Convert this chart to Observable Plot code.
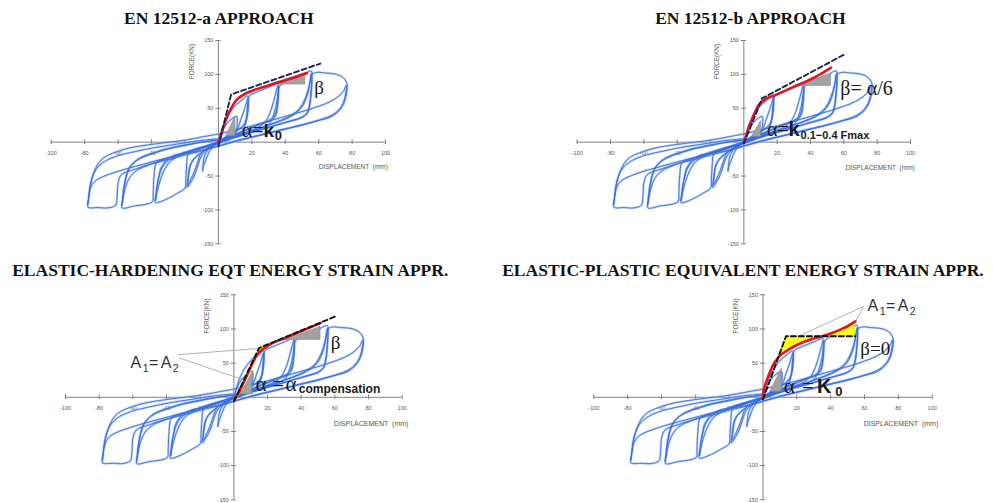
<!DOCTYPE html>
<html><head><meta charset="utf-8">
<script src="https://cdn.jsdelivr.net/npm/d3@7"></script>
<script src="https://cdn.jsdelivr.net/npm/@observablehq/plot@0.6"></script>
<style>
html,body{margin:0;padding:0;background:#fff;}
#wrap{position:relative;width:993px;height:503px;overflow:hidden;background:#fff;}
#wrap svg{position:absolute;}
</style></head><body><div id="wrap"></div>
<script>
// ---------- titles and axis texts ----------
const titles = ["EN 12512-a APPROACH", "EN 12512-b APPROACH", "ELASTIC-HARDENING EQT ENERGY STRAIN APPR.", "ELASTIC-PLASTIC EQUIVALENT ENERGY STRAIN APPR."];
const xLabel = "DISPLACEMENT  (mm)";
const yLabel = "FORCE(KN)";
const xTicks = [-100, -80, -60, -40, -20, 0, 20, 40, 60, 80, 100];
const xTickLabels = ["-100", "-80", "-60", "-40", "-20", "", "20", "40", "60", "80", "100"];
const yTicks = [-150, -100, -50, 0, 50, 100, 150];
const yTickLabels = ["-150", "-100", "-50", "", "50", "100", "150"];

// ---------- hysteresis cycles (displacement mm, force kN) ----------
const loopSmall = [[0,0],[1.5,12],[3.5,22],[6,30],[9,36],[11,38],[11.3,30],[11,20],[10,12],[7,6],[3,1],[0,-2],[-3,-6],[-5.5,-14],[-7.5,-26],[-9,-36],[-9.5,-43],[-9.2,-33],[-8.6,-23],[-7.4,-15],[-5,-8],[-2,-3],[0,0]];
const loop17a = [[0,0],[1.5,13],[3,25],[5,36],[7.5,46],[10.5,55],[14,62],[17.5,68],[17.9,60],[17.6,46],[17,36],[16,28],[14,22],[10,16],[6,10],[2,4],[0,0],[-3,-5],[-6,-10],[-9,-16],[-11,-25],[-13,-40],[-15,-53],[-17,-61],[-18.7,-67],[-18.3,-56],[-17.8,-45],[-16.8,-34],[-14.8,-25.5],[-11.5,-18],[-8.8,-13],[-5,-8],[-2,-3],[0,0]];
const loop17b = [[0,0],[3,4],[6,8],[9,12],[11.5,20],[13.5,34],[15.5,48],[17,60],[17.6,65],[17.9,57],[17.5,44],[16.7,34],[15.4,26],[13,20],[9,14],[5,8],[1,2],[-2,-3],[-5,-7],[-8,-11],[-10.5,-17],[-12.5,-30],[-14.5,-44],[-16.5,-55],[-18.3,-63],[-17.9,-53],[-17.4,-42],[-16.3,-31],[-14,-23],[-10.5,-16],[-7,-10],[-3,-5],[0,0]];
const loop35a = [[0,0],[5,5],[10,10],[14,15],[16.5,30],[17.5,55],[18.5,68],[22,73],[26,77],[30,81],[35.5,86],[36,77],[35.5,60],[34.5,45],[33,37],[30,32],[25,27],[18,20],[10,12],[3,5],[0,1],[-5,-4],[-10,-9],[-15,-13],[-18,-17],[-19,-35],[-19.5,-55],[-20,-68],[-25,-76],[-30,-83],[-37.7,-89],[-37.3,-77],[-36.7,-65],[-35.5,-50],[-34.7,-40],[-32.5,-31],[-30.7,-25.5],[-26,-19],[-20.7,-15.6],[-14,-10],[-7,-5],[0,0]];
const loop35b = [[0,0],[6,5],[12,10],[18,16],[24,22],[28,30],[31,44],[33,60],[34.5,74],[35.5,83],[35.9,75],[35.6,58],[34.9,44],[33.5,36],[30.5,31],[25,26],[18,19],[10,11],[3,4],[0,0],[-6,-5],[-12,-10],[-18,-15],[-24,-21],[-29,-29],[-32.5,-42],[-35,-58],[-36.6,-73],[-37.5,-86],[-37,-74],[-36.3,-60],[-35,-46],[-33,-35],[-30,-27],[-25,-20],[-18,-14],[-10,-8],[-4,-3],[0,0]];
const loop55a = [[0,0],[8,6],[16,12],[24,19],[30,26],[33,40],[35,60],[36.5,82],[40,89],[45,94],[50,99],[55.5,105],[56,95],[55.5,75],[54.5,55],[53,43],[50,37],[44,32],[36,26],[26,19],[16,12],[6,5],[0,0],[-8,-7],[-16,-13],[-24,-19],[-32,-25],[-37,-30],[-38.5,-50],[-39,-75],[-39.5,-88],[-44,-92],[-50,-94],[-57.6,-97],[-57.2,-85],[-56.6,-72],[-55.5,-55],[-53.5,-40],[-51.6,-33],[-48,-25],[-44.7,-20.6],[-38,-15],[-32.7,-10.8],[-22,-5],[-10,0],[0,3]];
const loop55b = [[0,3],[8,8],[16,14],[24,20],[32,27],[40,34],[46,42],[50,52],[53,68],[54.5,85],[55.5,101],[55.8,92],[55.4,72],[54.6,54],[53.3,43],[50.5,37],[45,32],[37,27],[28,20],[18,13],[8,5],[0,-2],[-8,-8],[-16,-14],[-25,-20],[-34,-27],[-42,-34],[-49,-42],[-53,-52],[-55.5,-66],[-57,-82],[-57.8,-94],[-57.4,-84],[-56.8,-70],[-55.6,-54],[-53.8,-40],[-50.5,-30],[-45,-22],[-38,-16],[-30,-10],[-20,-5],[-10,0],[0,3]];
const loop76a = [[0,0],[10,8],[20,16],[30,25],[40,35],[48,48],[52,65],[54.5,85],[56,100],[59,103],[64,102],[69,101],[73,98],[75.5,93],[77,85],[76.5,70],[75,57],[72,46],[67,37],[60,32],[50,25],[40,19],[30,13],[20,7],[10,1],[0,-6],[-10,-13],[-20,-19],[-30,-26],[-40,-32],[-50,-40],[-58,-48],[-60,-60],[-60.5,-78],[-61.5,-93],[-66,-97],[-72,-96.5],[-78,-96],[-77.6,-82],[-76.5,-62],[-74.5,-45],[-72,-32],[-68.6,-23],[-62.6,-15.7],[-52.6,-8.3],[-42,-4],[-32.7,-1],[-20,3],[-9,8],[0,12]];
const loop76b = [[0,12],[10,18],[20,24],[30,31],[40,38],[50,45],[60,53],[67,60],[72,68],[75,76],[76.5,84],[76.3,74],[75,60],[72.5,49],[68,40],[62,34],[52,27],[42,21],[32,15],[22,9],[12,3],[2,-4],[-8,-11],[-20,-17],[-32,-24],[-44,-32],[-56,-40],[-66,-48],[-73,-56],[-76,-65],[-77.5,-80],[-78,-92],[-77.5,-80],[-76.5,-62],[-74.5,-46],[-71.5,-35],[-67,-27],[-60,-20],[-50,-14],[-38,-8],[-25,-3],[-12,2],[0,5]];
const loops = [loopSmall, loop17a, loop17b, loop35a, loop35b, loop55a, loop55b, loop76a, loop76b];

// ---------- panel 1 (EN 12512-a) ----------
const red1 = [[0,-1],[2,14],[4.2,31],[7.2,48],[11.2,63],[17.2,72.9],[25,80],[35,87.6],[45,95],[53,102]];
const dash1 = [[0,-6],[7.6,70.4],[61,116]];
const triLow1 = [[4.8,9,9],[10.2,9,38]];
const triHigh1 = [[31,85,85],[52,85,102]];
// ---------- panel 2 (EN 12512-b) ----------
const red2 = [[0,0],[1.5,10],[3,22],[5,35],[7,46],[9,55],[12,62],[15,66],[18,68.5],[24,75],[30,81.5],[36,88],[42,95],[47,102],[52.3,110]];
const dash2 = [[0,-2],[10.9,64.5],[60,129]];
const triLow2 = [[5,8,8],[10.3,8,31]];
const triHigh2 = [[30,83,83],[52.3,83,101]];
// ---------- panel 3 (elastic-hardening) ----------
const red3 = [[0.5,-3],[3.2,8],[5.3,19],[7.4,30],[9.4,41],[11.3,51],[12.8,58],[14.8,65],[17,70],[20,75],[23,79.3],[30,86.5],[40,96.7],[51.5,108.5]];
const dash3 = [[0,-6],[14.9,72],[60,118]];
const yellow3a = [[-3,0.6,2],[8,3.4,4.8],[19,5.5,6.9],[30,7.6,9],[41,9.6,11],[51,11.5,12.6],[56,12.4,13]];
const yellow3b = [[14.9,66,72],[17,70,74.1],[20,75,77.2],[23,79.3,80.3]];
const triLow3 = [[4,4,4],[11,4,36]];
const triHigh3 = [[30.5,84,84],[51.5,84,103]];
const leaders3 = [[-32.7,62.5,13.9,71.3],[-32.7,57.7,7,24.5]];
// ---------- panel 4 (elastic-plastic) ----------
const red4 = [[0,-2],[0.4,11],[3,30],[5.5,45],[7.3,52.7],[10,61],[15.1,69.8],[20,76.5],[25,82],[30,86],[34.9,89.3],[40,93.5],[44.7,98],[50,104],[54.6,111]];
const dash4 = [[0,-3],[13.6,89.3],[54.6,89.3]];
const yellow4a = [[8.8,56.7,56.7],[10,61,64.9],[13.6,67.5,89.3],[15.1,69.8,89.3],[20,76.5,89.3],[25,82,89.3],[30,86,89.3],[34.9,89.3,89.3]];
const yellow4b = [[34.9,89.3,89.3],[40,89.3,93.5],[44.7,89.3,98],[50,89.3,104],[54.6,89.3,111]];
const triLow4 = [[4.3,8,8],[11.2,8,42]];
const leaders4 = [[59.5,133,17,85],[59.5,133,54.6,111]];

// ---------- annotation texts ----------
const beta1 = "β", alphaEq = "α=", kText = "k", sub0 = "0";
const beta2 = "β= α/6", subFmax = "0.1−0.4 Fmax";
const beta3 = "β", alphaSym = "α", eqSym = "=", subComp = "compensation";
const beta4 = "β=0", kCap = "K";
const aText = "A", sub1 = "1", sub2 = "2";

const SERIF = "Liberation Serif, 'Times New Roman', serif";
const SANS = "Liberation Sans, Arial, sans-serif";
const lbl = (x, y, t, o = {}) => Plot.text([t], {
  x: () => x, y: () => y, text: d => d, textAnchor: o.anchor || "start", lineAnchor: "bottom",
  dx: o.dx || 0, dy: o.dy || 0, fontSize: o.size || 16, fontFamily: o.fam || SERIF,
  fontWeight: o.w || "normal", fill: o.fill || "#1a1a1a"
});
const a1a2 = (x, y) => [
  lbl(x, y, aText, {size: 16, fam: SANS, fill: "#333"}),
  lbl(x, y, sub1, {dx: 12.2, dy: 4, size: 10.5, fam: SANS, fill: "#333"}),
  lbl(x, y, eqSym, {dx: 18.5, size: 16, fam: SANS, fill: "#333"}),
  lbl(x, y, aText, {dx: 30.2, size: 16, fam: SANS, fill: "#333"}),
  lbl(x, y, sub2, {dx: 42.2, dy: 4, size: 10.5, fam: SANS, fill: "#333"})
];
const tri = d => Plot.areaY(d, {x: p => p[0], y1: p => p[1], y2: p => p[2], fill: "#a2a2a2", stroke: "#858585", strokeWidth: 0.6});
const yellowY = d => Plot.areaY(d, {x: p => p[0], y1: p => p[1], y2: p => p[2], fill: "#ffff1a", stroke: "#e8e000", strokeWidth: 0.4});
const yellowX = d => Plot.areaX(d, {y: p => p[0], x1: p => p[1], x2: p => p[2], fill: "#ffff1a"});
const redLine = d => Plot.line(d, {x: p => p[0], y: p => p[1], curve: "catmull-rom", stroke: "#e3141c", strokeWidth: 2.6});
const dashLine = (d, c) => Plot.line(d, {x: p => p[0], y: p => p[1], stroke: c, strokeWidth: 1.9, strokeDasharray: "5,3"});
const leaders = d => Plot.link(d, {x1: p => p[0], y1: p => p[1], x2: p => p[2], y2: p => p[3], stroke: "#a8a8a8", strokeWidth: 0.9});

function panel(cfg) {
  const axisColor = "#808080", tickFill = "#555";
  const marks = [
    Plot.ruleY([0], {stroke: axisColor, strokeWidth: 1}),
    Plot.ruleX([0], {stroke: axisColor, strokeWidth: 1}),
    Plot.ruleX(xTicks, {x: d => d, y1: () => -3.5, y2: () => 3.5, stroke: axisColor}),
    Plot.ruleY(yTicks, {y: d => d, x1: () => -1.6, x2: () => 1.6, stroke: axisColor}),
    Plot.text(xTicks, {x: d => d, y: () => 0, text: (d, i) => xTickLabels[i], dy: 11, fontSize: 5.5, fontFamily: SANS, fill: tickFill}),
    Plot.text(yTicks, {x: () => 0, y: d => d, text: (d, i) => yTickLabels[i], dx: -5, textAnchor: "end", fontSize: 5.5, fontFamily: SANS, fill: tickFill}),
    Plot.text([xLabel], {x: () => cfg.xl[0], y: () => cfg.xl[1], text: d => d, textAnchor: "start", fontSize: cfg.xlSize, fontFamily: SANS, fill: "#555"}),
    Plot.text([yLabel], {x: () => -16, y: () => 119, text: d => d, rotate: -90, fontSize: 6.3, fontFamily: SANS, fill: "#555"}),
    ...loops.map(l => Plot.line(l, {x: d => d[0], y: d => d[1], curve: "catmull-rom", stroke: "#9fbbf2", strokeWidth: 2.4, strokeOpacity: 0.6})),
    ...loops.map(l => Plot.line(l, {x: d => d[0], y: d => d[1], curve: "catmull-rom", stroke: "#356be0", strokeWidth: 1, strokeOpacity: 0.9})),
    ...cfg.overlay,
    Plot.text([cfg.title], {frameAnchor: cfg.titleAnchor, text: d => d, textAnchor: cfg.titleTextAnchor, lineAnchor: "bottom",
      dx: cfg.titleDx, dy: cfg.titleDy, fontSize: 17.5, fontWeight: "bold", fontFamily: SERIF, fill: "#111"})
  ];
  const svg = Plot.plot({
    width: cfg.width, height: cfg.height,
    marginLeft: cfg.ml, marginRight: cfg.mr, marginTop: cfg.mt, marginBottom: cfg.mb,
    x: {domain: [-100, 100], axis: null},
    y: {domain: [-150, 150], axis: null},
    style: {background: "transparent", overflow: "visible", fontFamily: SANS},
    marks
  });
  svg.style.left = cfg.left + "px";
  svg.style.top = cfg.top + "px";
  document.getElementById("wrap").appendChild(svg);
}

panel({
  left: 0, top: 0, width: 497, height: 252, ml: 50.7, mr: 111.9, mt: 40, mb: 8.7,
  xl: [60, -37], xlSize: 6.5,
  title: titles[0], titleAnchor: "top", titleTextAnchor: "middle", titleDx: 0.4, titleDy: -16.7,
  overlay: [
    tri(triLow1), tri(triHigh1), redLine(red1), dashLine(dash1, "#1c2452"),
    lbl(57.4, 71, beta1, {size: 19}),
    lbl(14, 7.5, alphaEq, {size: 20}),
    lbl(14, 7.5, kText, {dx: 21.6, size: 19, fam: SANS, w: "bold"}),
    lbl(14, 7.5, sub0, {dx: 33, dy: 3.3, size: 13, fam: SANS, w: "bold"})
  ]
});
panel({
  left: 497, top: 0, width: 496, height: 252, ml: 79.7, mr: 83, mt: 40, mb: 8.7,
  xl: [61, -37.7], xlSize: 6.5,
  title: titles[1], titleAnchor: "top", titleTextAnchor: "middle", titleDx: 6.6, titleDy: -16.7,
  overlay: [
    tri(triLow2), tri(triHigh2), redLine(red2), dashLine(dash2, "#1c2452"),
    lbl(57.9, 70, beta2, {size: 20}),
    lbl(13.9, 8.8, alphaEq, {size: 20}),
    lbl(13.9, 8.8, kText, {dx: 21.6, size: 20, fam: SANS, w: "bold"}),
    lbl(13.9, 8.8, subFmax, {dx: 33.5, dy: 3, size: 11, fam: SANS, w: "bold"})
  ]
});
panel({
  left: 0, top: 252, width: 497, height: 251, ml: 65, mr: 95.3, mt: 42.3, mb: 3.7,
  xl: [59.4, -38.5], xlSize: 7,
  title: titles[2], titleAnchor: "top-left", titleTextAnchor: "start", titleDx: -53.3, titleDy: -18.6,
  overlay: [
    tri(triLow3), tri(triHigh3), leaders(leaders3),
    yellowX(yellow3a), yellowY(yellow3b),
    redLine(red3), dashLine(dash3, "#111"),
    lbl(57.5, 70.8, beta3, {size: 19}),
    ...a1a2(-61.4, 43),
    lbl(12.9, 8.8, alphaSym, {size: 21}),
    lbl(12.9, 8.8, eqSym, {dx: 16.7, size: 21}),
    lbl(12.9, 8.8, alphaSym, {dx: 30, size: 21}),
    lbl(12.9, 8.8, subComp, {dx: 43.3, dy: 2, size: 12, fam: SANS, w: "bold"})
  ]
});
panel({
  left: 497, top: 252, width: 496, height: 251, ml: 96.3, mr: 61.3, mt: 42.3, mb: 3.7,
  xl: [59.5, -38.5], xlSize: 7,
  title: titles[3], titleAnchor: "top-left", titleTextAnchor: "start", titleDx: -91.6, titleDy: -18.6,
  overlay: [
    tri(triLow4), leaders(leaders4),
    yellowY(yellow4a), yellowY(yellow4b),
    redLine(red4), dashLine(dash4, "#111"),
    lbl(57.5, 62, beta4, {size: 19}),
    ...a1a2(61.8, 126),
    lbl(12.2, 6.9, alphaSym, {size: 21}),
    lbl(12.2, 6.9, eqSym, {dx: 18.4, size: 21}),
    lbl(12.2, 6.9, kCap, {dx: 33.4, size: 20, fam: SANS, w: "bold"}),
    lbl(12.2, 6.9, sub0, {dx: 51.7, dy: 3, size: 13, fam: SANS, w: "bold"})
  ]
});
</script></body></html>
